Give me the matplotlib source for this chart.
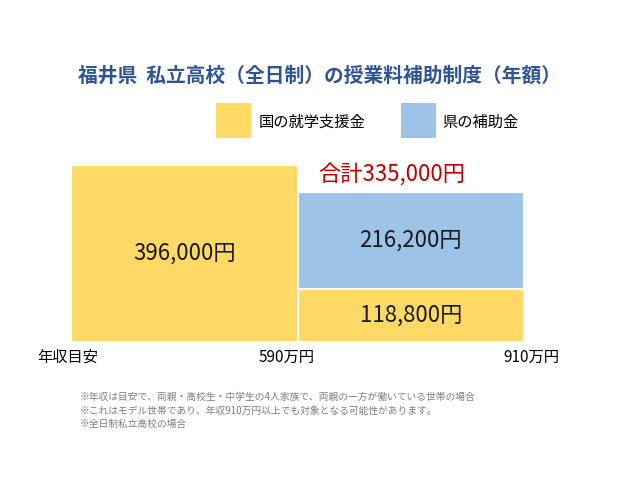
import matplotlib
matplotlib.use("Agg")
import matplotlib.pyplot as plt
from matplotlib.patches import Rectangle

plt.rcParams["font.family"] = ["Noto Sans CJK JP", "DejaVu Sans"]

# ── Data ──────────────────────────────────────────────────────────────
income_labels = ["590万円", "910万円"]
national = [396000, 118800]       # 国の就学支援金
prefecture = [0, 216200]          # 県の補助金
value_labels_nat = ["396,000円", "118,800円"]
value_labels_pref = ["", "216,200円"]
total_label = "合計335,000円"
series_names = ["国の就学支援金", "県の補助金"]

YELLOW = "#FFD966"
BLUE = "#9DC3E6"
TITLE = "#2F5496"
RED = "#C00000"
GRAY = "#7F7F7F"

fig = plt.figure(figsize=(6.4, 4.8), dpi=100)
ax = fig.add_axes([71 / 640, 1 - 342 / 480, 453 / 640, 177 / 480])

x = [0, 1]
ax.bar(x, national, width=1, align="edge", color=YELLOW,
       edgecolor="white", linewidth=1.5)
ax.bar(x, prefecture, width=1, align="edge", bottom=national, color=BLUE,
       edgecolor="white", linewidth=1.5)
ax.set_xlim(0, 2)
ax.set_ylim(0, max(national))
ax.axis("off")

for i in x:
    ax.text(i + 0.5, national[i] / 2, value_labels_nat[i], ha="center",
            va="center", fontsize=16, color="#1a1a1a")
    if prefecture[i]:
        ax.text(i + 0.5, national[i] + prefecture[i] / 2, value_labels_pref[i],
                ha="center", va="center", fontsize=16, color="#1a1a1a")

top_right = national[1] + prefecture[1]
ax.annotate(total_label, (1.5, top_right), xytext=(-14, 4),
            textcoords="offset points", ha="center", va="bottom",
            fontsize=16, color=RED, annotation_clip=False)

# ── Title & legend ────────────────────────────────────────────────────
fig.text(0.5, 1 - 76 / 480, "福井県  私立高校（全日制）の授業料補助制度（年額）",
         ha="center", va="center", fontsize=14.2, fontweight="bold", color=TITLE)

for sx, tx, col, name in [(216, 259, YELLOW, series_names[0]),
                          (401, 442, BLUE, series_names[1])]:
    fig.add_artist(Rectangle((sx / 640, 1 - 138 / 480), 35 / 640, 35 / 480,
                             transform=fig.transFigure, facecolor=col,
                             edgecolor="none"))
    fig.text(tx / 640, 1 - 122 / 480, name, ha="left", va="center", fontsize=11)

# ── Axis labels ───────────────────────────────────────────────────────
fig.text(37 / 640, 1 - 357 / 480, "年収目安", ha="left", va="center", fontsize=11)
fig.text(287 / 640, 1 - 357 / 480, income_labels[0], ha="center", va="center", fontsize=11)
fig.text(531 / 640, 1 - 357 / 480, income_labels[1], ha="center", va="center", fontsize=11)

# ── Footnotes ─────────────────────────────────────────────────────────
notes = [
    "※年収は目安で、両親・高校生・中学生の4人家族で、両親の一方が働いている世帯の場合",
    "※これはモデル世帯であり、年収910万円以上でも対象となる可能性があります。",
    "※全日制私立高校の場合",
]
for k, line in enumerate(notes):
    fig.text(80 / 640, 1 - (397 + 13.5 * k) / 480, line, ha="left",
             va="center", fontsize=7, color=GRAY)

fig.savefig("out.png", dpi=100, facecolor="white")
